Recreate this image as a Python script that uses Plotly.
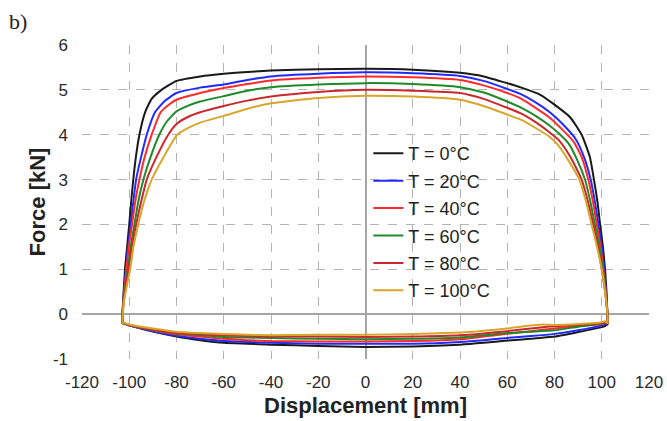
import plotly.graph_objects as go

# ---------------- data ----------------
temps = ["T = 0°C", "T = 20°C", "T = 40°C", "T = 60°C", "T = 80°C", "T = 100°C"]
colors = ["#1a1a1a", "#1f2bff", "#ff2a2a", "#1e8a2a", "#c8282e", "#d9a52a"]

# upper (loading) branch, left -> right
up_x_0 = [-102.8, -102.6, -101.8, -100.9, -100.0, -99.2, -98.3, -97.2, -95.7, -93.3, -90.5, -86.3, -80, -70, -60, -50, -40, -20, 0, 20, 40, 50, 60, 66, 74, 80, 86.6, 91.5, 95, 96.7, 98.2, 99.3, 100.5, 101.4, 102.0, 102.4, 102.5]
up_y_0 = [-0.2, 0.3, 1.0, 1.5, 2.0, 2.5, 3.0, 3.5, 4.0, 4.5, 4.8, 5.0, 5.2, 5.3, 5.36, 5.4, 5.43, 5.46, 5.47, 5.45, 5.38, 5.3, 5.15, 5.05, 4.89, 4.67, 4.39, 4.0, 3.5, 3.0, 2.5, 2.0, 1.5, 1.0, 0.5, 0.0, -0.22]

up_x_20 = [-102.8, -102.5, -101.4, -100.5, -99.4, -98.3, -97.1, -95.0, -92.6, -89.1, -85, -80, -70, -60, -50, -40, -20, 0, 20, 40, 50, 60, 66, 72, 78, 83, 89, 92.5, 95.3, 97.1, 98.6, 100, 101, 101.8, 102.4, 102.5]
up_y_20 = [-0.2, 0.3, 1.0, 1.5, 2.0, 2.5, 3.0, 3.5, 4.0, 4.5, 4.75, 4.93, 5.05, 5.12, 5.22, 5.30, 5.36, 5.39, 5.37, 5.31, 5.2, 5.02, 4.9, 4.72, 4.5, 4.26, 3.9, 3.5, 3.0, 2.5, 2.0, 1.5, 1.0, 0.5, 0.0, -0.2]

up_x_40 = [-102.8, -102.5, -101.2, -100.2, -98.8, -97.5, -95.7, -93.5, -90.5, -86.7, -83, -80, -70, -60, -50, -40, -20, 0, 20, 40, 50, 60, 66, 72, 78, 83, 88, 91.5, 94.3, 96.3, 97.9, 99.5, 100.7, 101.7, 102.4, 102.5]
up_y_40 = [-0.2, 0.3, 1.0, 1.5, 2.0, 2.5, 3.0, 3.5, 4.0, 4.5, 4.68, 4.78, 4.93, 5.04, 5.13, 5.21, 5.27, 5.30, 5.28, 5.22, 5.1, 4.93, 4.80, 4.6, 4.38, 4.13, 3.85, 3.5, 3.0, 2.5, 2.0, 1.5, 1.0, 0.5, 0.0, -0.2]

up_x_60 = [-102.8, -102.4, -100.6, -99.4, -97.8, -96.2, -94, -91, -87.3, -84, -80, -75, -70, -60, -50, -40, -20, 0, 20, 40, 50, 60, 66, 72, 78, 82, 86, 89.5, 92.9, 95.2, 97.1, 99, 100.4, 101.6, 102.4, 102.5]
up_y_60 = [-0.2, 0.3, 1.0, 1.5, 2.0, 2.5, 3.0, 3.5, 4.0, 4.3, 4.52, 4.65, 4.74, 4.86, 4.98, 5.06, 5.12, 5.15, 5.13, 5.06, 4.94, 4.74, 4.6, 4.42, 4.2, 4.02, 3.8, 3.45, 3.0, 2.5, 2.0, 1.5, 1.0, 0.5, 0.0, -0.2]

up_x_80 = [-102.8, -102.3, -100.3, -98.9, -97.1, -95.0, -92.6, -88.5, -83.5, -80, -75, -70, -60, -50, -40, -20, 0, 20, 40, 50, 60, 66, 72, 78, 82, 86.8, 91.5, 94.2, 96.4, 98.4, 100, 101.4, 102.4, 102.5]
up_y_80 = [-0.2, 0.3, 1.0, 1.5, 2.0, 2.5, 3.0, 3.5, 4.0, 4.24, 4.4, 4.5, 4.64, 4.76, 4.85, 4.95, 5.0, 4.98, 4.93, 4.8, 4.6, 4.47, 4.28, 4.05, 3.87, 3.5, 3.0, 2.5, 2.0, 1.5, 1.0, 0.5, 0.0, -0.2]

up_x_100 = [-102.8, -102.2, -99.6, -98.2, -96.2, -93.8, -90.5, -85.5, -79.7, -75, -70, -60, -50, -40, -20, 0, 20, 40, 50, 60, 66, 72, 78, 81, 85, 90.5, 93.4, 95.7, 98, 100, 101.4, 102.4, 102.5]
up_y_100 = [-0.2, 0.3, 1.0, 1.5, 2.0, 2.5, 3.0, 3.5, 4.0, 4.15, 4.27, 4.42, 4.58, 4.70, 4.82, 4.87, 4.85, 4.78, 4.64, 4.45, 4.33, 4.15, 3.95, 3.8, 3.5, 3.0, 2.5, 2.0, 1.5, 1.0, 0.5, 0.0, -0.2]

# lower (unloading) branch, right -> left
lo_x = [101.5, 100, 90, 80, 70, 60, 50, 40, 20, 0, -20, -40, -50, -60, -70, -80, -90, -100, -102, -102.8]
lo_y_0 = [-0.26, -0.29, -0.40, -0.50, -0.55, -0.59, -0.64, -0.68, -0.72, -0.73, -0.71, -0.68, -0.66, -0.64, -0.58, -0.50, -0.39, -0.25, -0.21, -0.2]
lo_y_20 = [-0.22, -0.25, -0.36, -0.44, -0.49, -0.53, -0.58, -0.62, -0.66, -0.66, -0.66, -0.64, -0.62, -0.60, -0.55, -0.48, -0.38, -0.25, -0.21, -0.2]
lo_y_40 = [-0.2, -0.22, -0.27, -0.32, -0.38, -0.44, -0.50, -0.56, -0.60, -0.61, -0.61, -0.60, -0.58, -0.55, -0.50, -0.45, -0.36, -0.25, -0.21, -0.2]
lo_y_60 = [-0.19, -0.21, -0.28, -0.36, -0.39, -0.42, -0.47, -0.52, -0.55, -0.56, -0.55, -0.53, -0.52, -0.51, -0.47, -0.43, -0.35, -0.25, -0.21, -0.2]
lo_y_80 = [-0.18, -0.2, -0.24, -0.27, -0.32, -0.38, -0.43, -0.47, -0.50, -0.51, -0.50, -0.50, -0.49, -0.47, -0.45, -0.42, -0.34, -0.24, -0.21, -0.2]
lo_x_100 = [101.5, 100, 90, 80, 75, 67, 60, 50, 40, 20, 0, -20, -40, -50, -60, -70, -80, -90, -100, -102, -102.8]
lo_y_100 = [-0.16, -0.18, -0.22, -0.24, -0.23, -0.27, -0.32, -0.37, -0.41, -0.44, -0.46, -0.46, -0.47, -0.46, -0.44, -0.42, -0.39, -0.32, -0.23, -0.2, -0.2]

x_ticks = [-120, -100, -80, -60, -40, -20, 0, 20, 40, 60, 80, 100, 120]
x_tick_text = ["-120", "-100", "-80", "-60", "-40", "-20", "0", "20", "40", "60", "80", "100", "120"]
y_ticks = [-1, 0, 1, 2, 3, 4, 5, 6]
y_tick_text = ["-1", "0", "1", "2", "3", "4", "5", "6"]

series = [
    (up_x_0, up_y_0, lo_x, lo_y_0),
    (up_x_20, up_y_20, lo_x, lo_y_20),
    (up_x_40, up_y_40, lo_x, lo_y_40),
    (up_x_60, up_y_60, lo_x, lo_y_60),
    (up_x_80, up_y_80, lo_x, lo_y_80),
    (up_x_100, up_y_100, lo_x_100, lo_y_100),
]

fig = go.Figure()
for name, col, (ux, uy, lx, ly) in zip(temps, colors, series):
    fig.add_trace(go.Scatter(
        x=ux + lx, y=uy + ly, mode="lines", name=name, legendgroup=name,
        line=dict(color=col, width=2, shape="spline", smoothing=0.5),
    ))

font_fam = "Liberation Sans, Arial, sans-serif"
grid = dict(showgrid=True, gridcolor="#b4b4b4", gridwidth=1, griddash="dash",
            zeroline=True, zerolinecolor="#a6a6a6", zerolinewidth=1.5,
            showline=False, ticks="", automargin=False,
            tickfont=dict(family=font_fam, size=17, color="#2a2a2a"))

fig.update_layout(
    width=667, height=421,
    margin=dict(l=82, r=18, t=45, b=62),
    paper_bgcolor="white", plot_bgcolor="white",
    font=dict(family=font_fam, color="#222222"),
    xaxis=dict(range=[-120, 120], tickvals=x_ticks, ticktext=x_tick_text, ticklabelstandoff=11,
               title=dict(text="<b>Displacement [mm]</b>", font=dict(size=22, color="#222222"), standoff=6),
               **grid),
    yaxis=dict(range=[-1, 6], tickvals=y_ticks, ticktext=y_tick_text, ticklabelstandoff=13,
               title=dict(text="<b>Force [kN]</b>", font=dict(size=22, color="#222222"), standoff=1),
               **grid),
    legend=dict(x=0.505, y=0.713, xanchor="left", yanchor="top",
                bgcolor="rgba(0,0,0,0)", font=dict(family=font_fam, size=18, color="#222222"),
                tracegroupgap=1, itemwidth=30),
    showlegend=True,
    annotations=[dict(text="b)", xref="paper", yref="paper", x=-0.113, y=1.074,
                      xanchor="center", yanchor="middle",
                      showarrow=False, font=dict(family="Liberation Serif, Times New Roman, serif", size=22, color="#222222"))],
)

fig.write_html("out.html", config={"displayModeBar": False},
               post_script="document.body.style.margin='0';document.body.style.overflow='hidden';")
